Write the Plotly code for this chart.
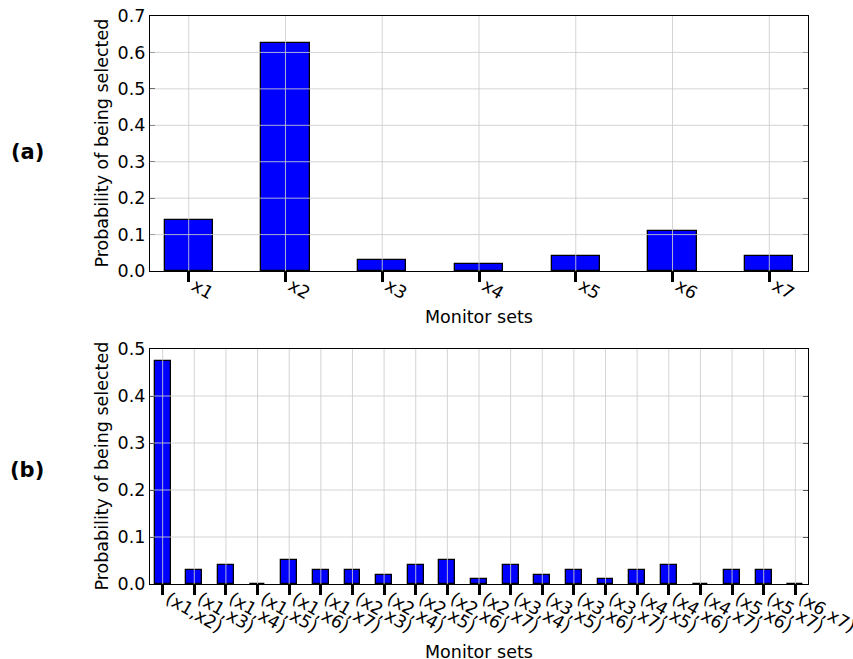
import plotly.graph_objects as go
from plotly.subplots import make_subplots

# ---- data ----
single_sets = ["x1", "x2", "x3", "x4", "x5", "x6", "x7"]
single_probs = [0.14, 0.625, 0.03, 0.02, 0.04, 0.11, 0.04]

pair_sets = ["(x1,x2)", "(x1,x3)", "(x1,x4)", "(x1,x5)", "(x1,x6)", "(x1,x7)",
             "(x2,x3)", "(x2,x4)", "(x2,x5)", "(x2,x6)", "(x2,x7)",
             "(x3,x4)", "(x3,x5)", "(x3,x6)", "(x3,x7)",
             "(x4,x5)", "(x4,x6)", "(x4,x7)",
             "(x5,x6)", "(x5,x7)", "(x6,x7)"]
pair_probs = [0.475, 0.03, 0.04, 0.0, 0.05, 0.03, 0.03, 0.02, 0.04, 0.05, 0.01,
              0.04, 0.02, 0.03, 0.01, 0.03, 0.04, 0.0, 0.03, 0.03, 0.0]

top_yticks = [0.0, 0.1, 0.2, 0.3, 0.4, 0.5, 0.6, 0.7]
bot_yticks = [0.0, 0.1, 0.2, 0.3, 0.4, 0.5]

panel_labels = ["(a)", "(b)"]
x_title = "Monitor sets"
y_title = "Probability of being selected"

FONT = "DejaVu Sans"
FS = 17.5

fig = make_subplots(rows=2, cols=1)
fig.update_layout(
    template="none",
    xaxis=dict(domain=[0, 1]),
    yaxis=dict(domain=[0.551, 1.0]),
    xaxis2=dict(domain=[0, 1]),
    yaxis2=dict(domain=[0.0, 0.4137]),
)

panels = [
    (single_sets, single_probs, top_yticks, "x", "y", 1),
    (pair_sets, pair_probs, bot_yticks, "x2", "y2", 2),
]

shapes = []
for cats, vals, yt, xr, yr, row in panels:
    idx = list(range(len(cats)))
    fig.add_trace(go.Bar(
        x=idx, y=vals, width=0.5,
        marker=dict(color="#0000ff", line=dict(color="black", width=1.3)),
        showlegend=False, hoverinfo="skip",
    ), row=row, col=1)
    fig.update_xaxes(
        row=row, col=1, automargin=False,
        range=[-0.4, len(cats) - 0.6],
        tickvals=idx, ticktext=cats, tickangle=30,
        ticks="outside", ticklen=10, tickwidth=2.5, tickcolor="black",
        ticklabelstandoff=-13, ticklabelshift=6, ticklabeloverflow="allow",
        showgrid=False, zeroline=False,
        showline=True, linecolor="black", linewidth=1.3, mirror=True,
        tickfont=dict(family=FONT, size=FS, color="black"),
    )
    fig.update_yaxes(
        row=row, col=1, automargin=False,
        range=[yt[0], yt[-1]],
        tickvals=yt, tickformat=".1f",
        ticks="inside", ticklen=5, tickwidth=1, tickcolor="black",
        showgrid=False, zeroline=False,
        showline=True, linecolor="black", linewidth=1.3, mirror="ticks",
        tickfont=dict(family=FONT, size=FS, color="black"),
    )
    # grid lines drawn above bars (as in reference)
    for i in idx:
        shapes.append(dict(type="line", xref=xr, yref=yr + " domain",
                           x0=i, x1=i, y0=0, y1=1, layer="above",
                           line=dict(color="rgba(205,205,205,0.85)", width=1)))
    for v in yt[1:-1]:
        shapes.append(dict(type="line", xref=xr + " domain", yref=yr,
                           x0=0, x1=1, y0=v, y1=v, layer="above",
                           line=dict(color="rgba(205,205,205,0.85)", width=1)))

annotations = [
    dict(text=y_title, xref="paper", yref="paper", x=0, y=0.7755, xshift=-48,
         textangle=-90, showarrow=False, xanchor="center", yanchor="middle",
         font=dict(family=FONT, size=FS, color="black")),
    dict(text=y_title, xref="paper", yref="paper", x=0, y=0.2068, xshift=-48,
         textangle=-90, showarrow=False, xanchor="center", yanchor="middle",
         font=dict(family=FONT, size=FS, color="black")),
    dict(text=x_title, xref="paper", yref="paper", x=0.5, y=0.470,
         showarrow=False, xanchor="center", yanchor="middle",
         font=dict(family=FONT, size=FS, color="black")),
    dict(text=x_title, xref="paper", yref="paper", x=0.5, y=-0.1197,
         showarrow=False, xanchor="center", yanchor="middle",
         font=dict(family=FONT, size=FS, color="black")),
    dict(text="<b>" + panel_labels[0] + "</b>", xref="paper", yref="paper",
         x=0, y=0.7606, xshift=-123, showarrow=False,
         xanchor="center", yanchor="middle",
         font=dict(family=FONT, size=21, color="black")),
    dict(text="<b>" + panel_labels[1] + "</b>", xref="paper", yref="paper",
         x=0, y=0.2007, xshift=-123, showarrow=False,
         xanchor="center", yanchor="middle",
         font=dict(family=FONT, size=21, color="black")),
]

fig.update_layout(
    width=853, height=659,
    margin=dict(l=150, r=45, t=16, b=75, autoexpand=False),
    paper_bgcolor="white", plot_bgcolor="white",
    shapes=shapes, annotations=annotations,
    bargap=0, showlegend=False,
    font=dict(family=FONT, size=FS, color="black"),
)

fig.write_html(
    "out.html",
    config={"displayModeBar": False},
    post_script="document.body.style.margin='0';document.body.style.overflow='hidden';",
)
